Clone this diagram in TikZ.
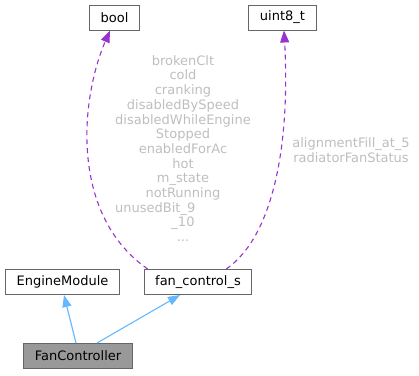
\documentclass[tikz,border=0pt]{standalone}
\usepackage{fontspec}
\setmainfont{DejaVu Sans}
\usetikzlibrary{arrows.meta}
\definecolor{fcBorder}{HTML}{666666}
\definecolor{fcFocus}{HTML}{999999}
\definecolor{fcBlue}{HTML}{63B8FF}
\definecolor{fcPurple}{HTML}{9A32CD}
\definecolor{fcGray}{HTML}{BEBEBE}
\tikzset{
  fc box/.style={draw=fcBorder, fill=white, line width=1pt, minimum height=25pt, inner xsep=11pt, inner ysep=0pt, font=\fontsize{13}{14.7}\selectfont},
  fc focus/.style={fc box, fill=fcFocus},
  fc inherit/.style={draw=fcBlue, line width=1.1pt, -{Triangle[length=12pt,width=9pt]}},
  fc usage/.style={draw=fcPurple, line width=1.1pt, dash pattern=on 5pt off 4pt, -{Triangle[length=12pt,width=9pt]}},
  fc label/.style={text=fcGray, align=center, inner sep=0pt, font=\fontsize{13}{14.7}\selectfont},
}

\begin{document}
\begin{tikzpicture}[x=1pt,y=-1pt]
  \useasboundingbox (0,0) rectangle (419,375);
  \node[fc box] (bool) at (114.5,17.5) {bool};
  \node[fc box] (uint) at (282.5,17.5) {uint8\_t};
  \node[fc box] (em) at (62.5,282) {EngineModule};
  \node[fc box] (fcs) at (198,282) {fan\_control\_s};
  \node[fc focus] (fc) at (78,356) {FanController};
  % inheritance
  \draw[fc inherit] ([xshift=-2pt]fc.north) -- ([xshift=1.5pt]em.south);
  \draw[fc inherit] ([xshift=19pt]fc.north) -- ([xshift=-18pt]fcs.south);
  % members
  \draw[fc usage] ([xshift=4pt]fcs.north west) .. controls (70,215) and (80,100) .. ([xshift=-4.5pt]bool.south);
  \draw[fc usage] ([xshift=-26pt]fcs.north east) .. controls (275,235) and (290,140) .. ([xshift=1.5pt]uint.south);
  \node[fc label] (boolvars) at (183,148.5) {brokenClt\\cold\\cranking\\disabledBySpeed\\disabledWhileEngine\\Stopped\\enabledForAc\\hot\\m\_state\\notRunning\\\rlap{unusedBit\_9}\hphantom{disabledWhileEngine}\\\_10\\...};
  \node[fc label] (uintvars) at (351,150) {alignmentFill\_at\_5\\radiatorFanStatus};
\end{tikzpicture}
\end{document}
